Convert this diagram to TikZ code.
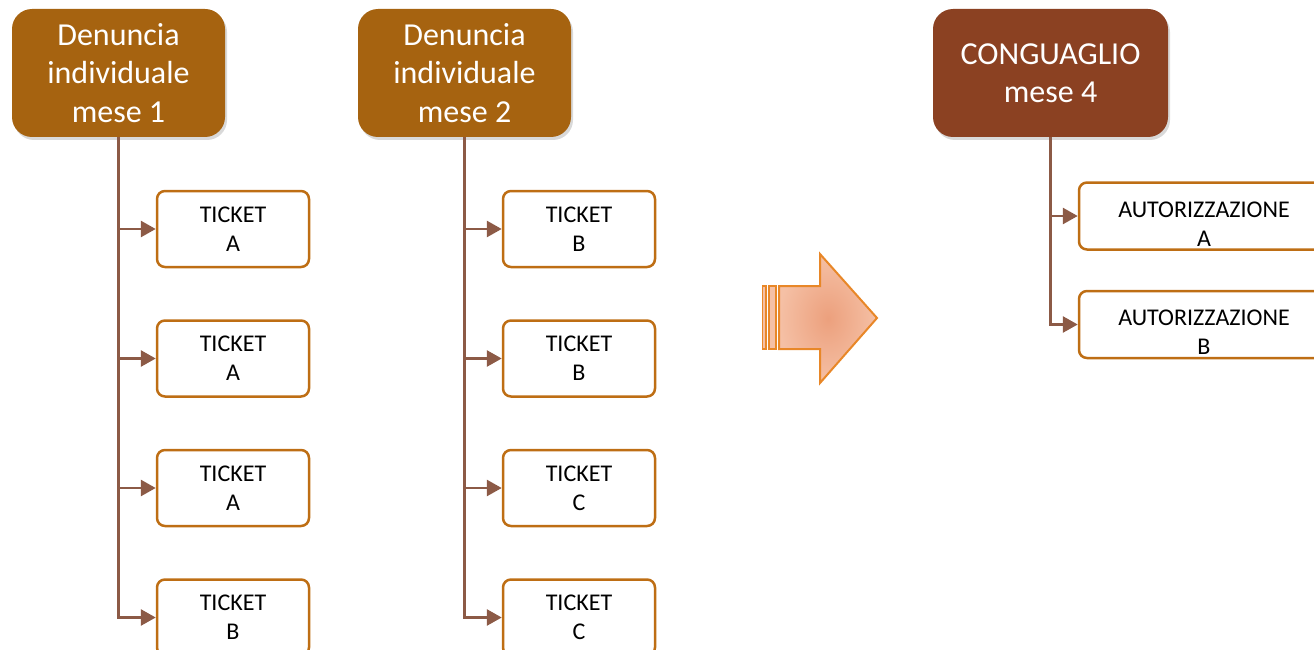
\documentclass[tikz,border=0pt]{standalone}
\usepackage{fontspec}
\setmainfont{Carlito}
\usetikzlibrary{
    arrows.meta,
    chains,
    positioning,
    shadows,
}
\definecolor{MyOchre}{RGB}{166,99,16}
\definecolor{MyRust}{RGB}{139,65,34}
\definecolor{MyEdge}{RGB}{190,110,20}
\definecolor{MyLink}{RGB}{140,90,70}
\definecolor{MySalmon}{RGB}{245,192,165}
\definecolor{MyCoral}{RGB}{236,160,125}
\definecolor{MyOrange}{RGB}{232,135,40}
\tikzset{
    >={Triangle[length=15pt,width=16pt]}
}

\begin{document}
\begin{tikzpicture}[
    x=1pt,y=-1pt,
    head/.style={fill=#1,rounded corners=20pt,minimum width=213pt,minimum height=128pt,text=white,align=center,font=\fontsize{32}{38.5}\selectfont,drop shadow={opacity=.3,shadow xshift=2pt,shadow yshift=-3pt}},
    ticket/.style={on chain,draw=MyEdge,line width=2.5pt,rounded corners=8pt,fill=white,minimum width=152pt,minimum height=76pt,align=center,font=\fontsize{24}{29}\selectfont},
    auth/.style={ticket,minimum width=250pt,minimum height=67pt},
    authtext/.style={align=center,font=\fontsize{24}{29}\selectfont,yshift=-8pt},
    link/.style={->,MyLink,line width=2.8pt}
    ]
    \useasboundingbox (0,0) rectangle (1314,650);

    \node[head=MyOchre] (head1) at (118.5,73) {Denuncia\\individuale\\mese 1};
    \node[head=MyOchre] (head2) at (464.5,73) {Denuncia\\individuale\\mese 2};
    \node[head=MyRust,minimum width=235pt] (head4) at (1050.5,73) {CONGUAGLIO\\mese 4};

    \begin{scope}[start chain=going below,node distance=51pt]
        \node[ticket] (tick1a) at (233,229) {TICKET\\A};
        \node[ticket] (tick1b) {TICKET\\A};
        \node[ticket] (tick1c) {TICKET\\A};
        \node[ticket] (tick1d) {TICKET\\B};
    \end{scope}

    \begin{scope}[start chain=going below,node distance=51pt]
        \node[ticket] (tick2a) at (579,229) {TICKET\\B};
        \node[ticket] (tick2b) {TICKET\\B};
        \node[ticket] (tick2c) {TICKET\\C};
        \node[ticket] (tick2d) {TICKET\\C};
    \end{scope}

    \begin{scope}[start chain=going below,node distance=39pt]
        \node[auth,label={[authtext]center:AUTORIZZAZIONE\\A}] (auth4a) at (1204,216) {};
        \node[auth,label={[authtext]center:AUTORIZZAZIONE\\B}] (auth4b) {};
    \end{scope}

    \foreach \t in {tick1a,tick1b,tick1c,tick1d}
        \draw[link] (head1.south) |- (\t.west);
    \foreach \t in {tick2a,tick2b,tick2c,tick2d}
        \draw[link] (head2.south) |- (\t.west);
    \foreach \t in {auth4a,auth4b}
        \draw[link] (head4.south) |- (\t.west);

    % big arrow
    \filldraw[fill=MySalmon,draw=MyOrange,line width=1.5pt] (762.5,286) rectangle (766,349);
    \filldraw[fill=MySalmon,draw=MyOrange,line width=1.5pt] (769,286) rectangle (776,349);
    \shadedraw[inner color=MyCoral,outer color=MySalmon,draw=MyOrange,line width=2pt]
        (779,286) -- (820,286) -- (820,254) -- (877,318) -- (820,383) -- (820,349) -- (779,349) -- cycle;
\end{tikzpicture}
\end{document}
